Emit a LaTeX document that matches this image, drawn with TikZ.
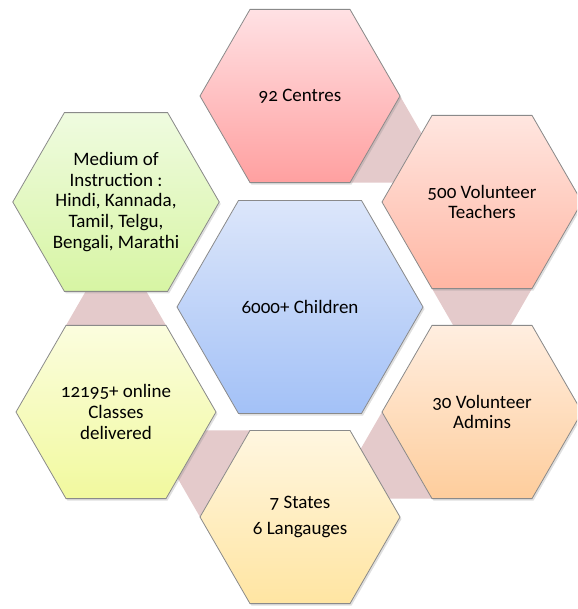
\documentclass[tikz,border=0pt]{standalone}
\usepackage{fontspec}
\setmainfont{Carlito}[Numbers=OldStyle]
\usetikzlibrary{shapes.geometric,shadows,calc,backgrounds}

\definecolor{bandpink}{HTML}{E4CACB}
\definecolor{hexline}{HTML}{8A8A8A}

\tikzset{
  hexa/.style={regular polygon, regular polygon sides=6, minimum size=200pt,
    inner sep=0pt, outer sep=0pt, draw=hexline, line width=0.8pt,
    align=center, font=\fontsize{19}{20.7}\selectfont,
    drop shadow={shadow xshift=1.5pt, shadow yshift=-2pt, opacity=0.25}},
  band/.style={fill=bandpink}
}

\begin{document}
\begin{tikzpicture}[x=1pt,y=-1pt]
        \useasboundingbox (0,0) rectangle (577,609);
        \clip (0,0) rectangle (577,609);

        % middle hexagon
        \node[hexa, minimum size=246pt, top color={rgb,255:red,220;green,230;blue,250},
              bottom color={rgb,255:red,163;green,193;blue,247}] (children) at (300,307) {6000+ Children};

        % outer ring
        \node[hexa, top color={rgb,255:red,255;green,225;blue,228},
              bottom color={rgb,255:red,255;green,160;blue,160}] (centres) at (300,96) {92 Centres};
        \node[hexa, top color={rgb,255:red,255;green,230;blue,224},
              bottom color={rgb,255:red,255;green,182;blue,163}] (teachers) at (482,202) {500 Volunteer\\Teachers};
        \node[hexa, top color={rgb,255:red,255;green,238;blue,224},
              bottom color={rgb,255:red,254;green,205;blue,156}] (admins) at (482,412) {30 Volunteer\\Admins};
        \node[hexa, top color={rgb,255:red,255;green,246;blue,224},
              bottom color={rgb,255:red,255;green,229;blue,162}] (states) at (300,517) {7 States\\[6pt]6 Langauges};
        \node[hexa, top color={rgb,255:red,251;green,253;blue,222},
              bottom color={rgb,255:red,241;green,249;blue,158}] (classes) at (116,412) {12195+ online\\Classes\\delivered};
        \node[hexa, top color={rgb,255:red,239;green,251;blue,224},
              bottom color={rgb,255:red,215;green,245;blue,163}] (medium) at (116,202) {Medium of\\Instruction :\\Hindi, Kannada,\\Tamil, Telgu,\\Bengali, Marathi};

        % bands between neighbours, behind the hexagons
        \begin{scope}[on background layer]
          \foreach \n/\a/\b in {centres/0/-60, teachers/-60/-120, admins/-120/180,
                                states/180/120, classes/120/60}
            \fill[band] (\n.\a) -- (\n.\b) -- ($(\n.\a)+(\n.\b)-(\n.center)$) -- cycle;
        \end{scope}
\end{tikzpicture}
\end{document}
